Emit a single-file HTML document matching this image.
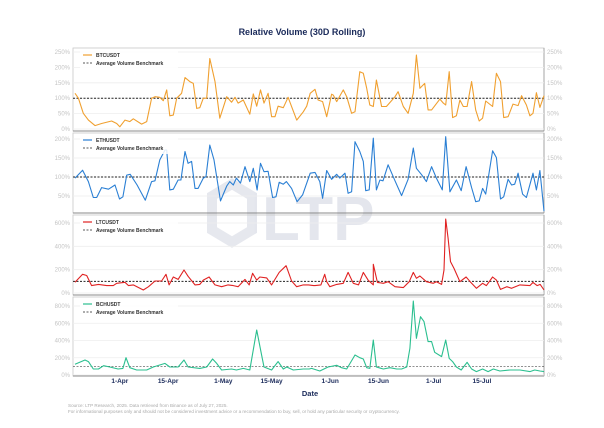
<!DOCTYPE html>
<html><head><meta charset="utf-8"><style>
body{margin:0;background:#fff;width:604px;height:423px;overflow:hidden;font-family:"Liberation Sans",sans-serif}
svg text{font-family:"Liberation Sans",sans-serif}
</style></head><body>
<svg id="chart" width="604" height="423" viewBox="0 0 604 423" xmlns="http://www.w3.org/2000/svg">
<text x="302" y="35" text-anchor="middle" font-size="9" font-weight="bold" fill="#1a2a5a">Relative Volume (30D Rolling)</text>
<g opacity="0.13">
<polygon points="212,196 232,184 252,196 252,230 232,242 212,230" fill="none" stroke="#3a4a7a" stroke-width="10"/>
<text x="262" y="240" font-size="62" font-weight="bold" fill="#3a4a7a">LTP</text>
</g>
<g id="panels"></g>
<g id="xaxis"></g>
<text x="310" y="396" text-anchor="middle" font-size="7.5" font-weight="bold" fill="#1a2a5a">Date</text>
<text x="68" y="407" font-size="4.6" fill="#aaa">Source: LTP Research, 2025. Data retrieved from Binance as of July 27, 2025.</text>
<text x="68" y="413" font-size="4.6" fill="#aaa">For informational purposes only and should not be considered investment advice or a recommendation to buy, sell, or hold any particular security or cryptocurrency.</text>
</svg>
<script>
// days since 19-Mar
const btcDays=[0,1,2.4,3.9,5.8,7.7,10.6,12.1,13,14.5,15.9,16.9,19.3,20.8,22.2,23.2,24.6,25.6,26.6,27.5,28.5,29.5,30.9,31.9,33.3,34.3,35.3,36.2,37.2,38.2,39.1,40.6,42,44,45.4,46.4,47.3,48.8,50.7,51.7,52.7,53.8,54.8,56,57,58,58.9,60.4,61.8,64.3,66.2,67.2,68.2,69.6,70.5,71.8,73,74.4,74.9,75.9,77.8,78.8,80.2,81.2,82.6,83.6,84.6,85.5,86.5,87.4,88.9,90.3,92.8,93.7,95.2,96.6,98.1,99,100,101.4,102.4,103.4,105.8,106.8,107.5,108.5,109.5,110.6,111.6,112.6,113.7,115,116.2,117.2,118.2,119.1,121.1,122.2,123.4,124.3,125.6,127,128.5,129.5,130.9,131.9,132.8,133.8,134.8,136];
const btcVals=[116,100,51,29,11,18,26,18,7,29,24,33,16,24,100,105,103,92,127,43,45,100,116,167,154,148,67,69,100,100,229,154,35,105,87,103,84,94,48,114,74,127,84,116,40,40,74,69,103,29,56,74,116,129,94,89,40,113,110,89,127,105,51,56,186,181,132,78,73,159,73,73,105,121,73,51,116,240,132,148,62,62,97,84,78,186,37,43,94,73,73,154,62,26,35,91,73,181,154,37,40,81,76,108,78,43,51,118,70,108,8];
const ethDays=[0,2.2,3.9,5.3,6.3,7.7,9.7,11.6,12.9,13.9,15,16,18,20.4,22.2,23.2,24.6,26.1,26.6,27.5,28.5,29.9,30.7,31.9,32.8,33.8,34.8,35.7,37.2,38,39.1,40.3,42.2,44,44.9,45.9,46.8,48,49.3,50.7,51.7,52.8,53.8,54.8,56,57.3,58.3,59.2,60.4,61.3,62.8,64.4,66,68.2,69.6,71,71.8,73,74.4,75.9,76.8,78.3,79.2,80.2,81.2,82.6,83.6,84.3,85.3,86.5,87.4,88.4,89.3,90.8,92.8,94.7,96.6,98.1,99,100.5,101.9,103.4,104.8,106.5,107.5,108.7,110.6,112,113.4,115,116.2,117.2,118.2,119.1,121.1,122.2,123.4,124.3,125.6,126.6,127.5,128.5,129.8,130.9,132.8,133.8,134.8,136];
const ethVals=[97,118,88,46,46,72,68,79,42,48,105,107,79,39,88,90,145,171,171,66,68,92,92,167,136,141,70,70,97,101,184,145,37,76,88,79,97,84,127,88,123,66,136,114,115,46,48,86,81,88,70,35,53,110,112,88,44,117,94,107,97,110,57,61,193,167,141,64,66,202,66,92,90,132,90,51,94,176,123,106,88,127,97,66,206,61,92,64,127,72,35,37,70,55,169,151,42,48,94,79,81,110,55,46,110,66,117,10];
const ltcDays=[0,2.2,3.4,4.8,6.8,9.2,11.1,12.1,14.5,15.5,16.9,19.8,21.3,23.2,25.1,26.4,27.3,28.5,29.9,31.6,32.8,34.8,36.2,37.2,38.9,40.6,42.5,44.4,45.9,47.3,49.3,50.5,51.5,52.7,53.6,55.6,57,59.2,61.2,62.8,64.3,66.2,67.7,69.2,69.6,71.3,72.4,73,73.9,75.9,77.8,79.2,80.7,82.2,83.6,85,86.5,86.5,87.7,89.4,90.8,92.8,95.2,96.9,98.1,99,100,101.9,103.9,104.8,106.3,107,107.5,108.2,108.9,109.9,111.6,113.4,114.6,116.4,118.2,119.3,121.1,122.2,123.4,125.2,126.6,129,131.9,132.8,134,134.9,136];
const ltcVals=[92,160,150,63,74,63,63,83,92,63,69,26,54,103,103,160,69,137,117,197,143,69,74,111,137,69,54,69,63,54,117,69,169,111,137,129,69,177,234,103,54,69,69,63,63,69,160,97,54,74,83,177,83,69,177,111,69,246,91,83,97,54,46,97,177,126,146,97,83,97,74,197,634,469,269,211,97,137,97,40,83,63,137,111,31,54,40,69,63,91,63,74,26];
const bchDays=[0,2.9,3.9,5.3,6.8,8.3,10.1,12.5,13.9,14.8,15.9,17.9,20.8,22.7,26.1,27.5,29.9,31.6,32.8,36.2,38.2,39.9,41.1,42.5,45.4,46.8,48.8,50.7,52.7,54.1,54.8,57,58.9,60.4,61.4,63.3,66.2,67.9,68.6,71,73.4,75.9,77.3,78.8,81.2,82.6,83.6,84.6,85.5,86.5,87.4,89.4,91.3,93.3,94.7,96.2,97.1,98.1,99,100.2,101.2,102.4,103.4,104.3,106.3,107.5,108.5,109.5,110.6,112,113.7,115,116.4,118.2,119.8,121.3,123.2,126.1,129,131.9,133.3,134.8,136];
const bchVals=[124,174,155,70,70,108,93,70,77,201,85,58,58,93,135,93,93,174,93,77,93,186,135,58,70,58,77,58,522,232,93,58,155,70,93,58,70,70,77,46,93,112,85,70,232,201,186,85,77,406,93,70,85,70,70,93,309,858,425,676,619,387,387,263,213,406,193,155,93,58,147,70,39,70,39,70,46,58,58,39,58,46,39];
const leftTicks1=[0,50,100,150,200,250];
const leftTicks2=[50,100,150,200];
const leftTicks3=[0,200,400,600];
const leftTicks4=[0,200,400,600,800];
const xTickDays=[13,27,43,57,74,88,104,118];
const xTickLabels=["1-Apr","15-Apr","1-May","15-May","1-Jun","15-Jun","1-Jul","15-Jul"];
const benchmark=100;

const NS="http://www.w3.org/2000/svg";
const X0=75,X1=544,DAYMAX=136;
function xScale(d){return X0+(X1-X0)*d/DAYMAX;}
function mk(tag,attrs,parent){const e=document.createElementNS(NS,tag);for(const k in attrs)e.setAttribute(k,attrs[k]);parent.appendChild(e);return e;}
const panels=[
 {id:"btc",name:"BTCUSDT",color:"#f0a030",days:btcDays,vals:btcVals,ticks:leftTicks1,top:48,bot:131,zero:129,max:250},
 {id:"eth",name:"ETHUSDT",color:"#2a7fd4",days:ethDays,vals:ethVals,ticks:leftTicks2,top:133,bot:213,zero:215,max:200,maxPx:139},
 {id:"ltc",name:"LTCUSDT",color:"#e02222",days:ltcDays,vals:ltcVals,ticks:leftTicks3,top:215,bot:295,zero:293,max:600,maxPx:223},
 {id:"bch",name:"BCHUSDT",color:"#2bbf8f",days:bchDays,vals:bchVals,ticks:leftTicks4,top:297,bot:376,zero:375,max:800,maxPx:306}
];
panels[0].maxPx=52;
const root=document.getElementById("panels");
panels.forEach(p=>{
 const g=mk("g",{},root);
 
 
 const y=v=>p.zero-(p.zero-p.maxPx)*v/p.max;
 const box=mk("rect",{x:X0-2,y:p.top,width:X1-X0+2,height:p.bot-p.top,fill:"none",stroke:"#c8c8c8","stroke-width":0.8},g);
 
 
 mk("line",{x1:X0-2,x2:X1,y1:p.bot,y2:p.bot,stroke:"#888","stroke-width":1},g);
 const ra=mk("line",{x1:X1,x2:X1,y1:p.top,y2:p.bot,stroke:"#999","stroke-width":0.8},g);
 
 
 p.ticks.forEach(t=>{
  const yy=y(t);
  const gl=mk("line",{x1:X0-2,x2:X1,y1:yy,y2:yy,stroke:"#eeeeee","stroke-width":0.8},g);
  
  
  const lt=mk("text",{x:70,y:yy+2,"text-anchor":"end","font-size":6,fill:"#c4c4c4"},g);
  lt.textContent=t+"%";
  
  
  const rt=mk("text",{x:X1+3,y:yy+2,"font-size":6,fill:"#c4c4c4"},g);
  rt.textContent=t+"%";
  
  
 });
 const by=y(benchmark);
 const bl=mk("line",{x1:X0-2,x2:X1,y1:by,y2:by,stroke:"#222","stroke-width":p.id=="bch"?0.5:1,"stroke-dasharray":"2,1.5"},g);
 
 
 const pts=p.days.map((d,i)=>xScale(d).toFixed(1)+","+y(p.vals[i]).toFixed(1)).join(" ");
 const pl=mk("polyline",{points:pts,fill:"none",stroke:p.color,"stroke-width":1.1,"stroke-linejoin":"round"},g);
 
 
 const lg=mk("g",{},g);
 
 
 mk("rect",{x:80,y:p.top+2,width:98,height:19,fill:"#fff",opacity:0.85},lg);
 mk("line",{x1:83,x2:92,y1:p.top+7,y2:p.top+7,stroke:p.color,"stroke-width":1.2},lg);
 const t1=mk("text",{x:96,y:p.top+9,"font-size":5,"font-weight":"bold",fill:"#333"},lg);t1.textContent=p.name;
 
 
 mk("line",{x1:83,x2:92,y1:p.top+15,y2:p.top+15,stroke:"#222","stroke-width":0.8,"stroke-dasharray":"2,1.5"},lg);
 const t2=mk("text",{x:96,y:p.top+17,"font-size":5,"font-weight":"bold",fill:"#333"},lg);t2.textContent="Average Volume Benchmark";
 
 
});
const xa=document.getElementById("xaxis");
xTickDays.forEach((d,i)=>{
 const t=mk("text",{x:xScale(d),y:383,"text-anchor":"middle","font-size":6.5,"font-weight":"bold",fill:"#1a2a5a"},xa);
 t.textContent=xTickLabels[i];
 
 
});
</script>
</body></html>
